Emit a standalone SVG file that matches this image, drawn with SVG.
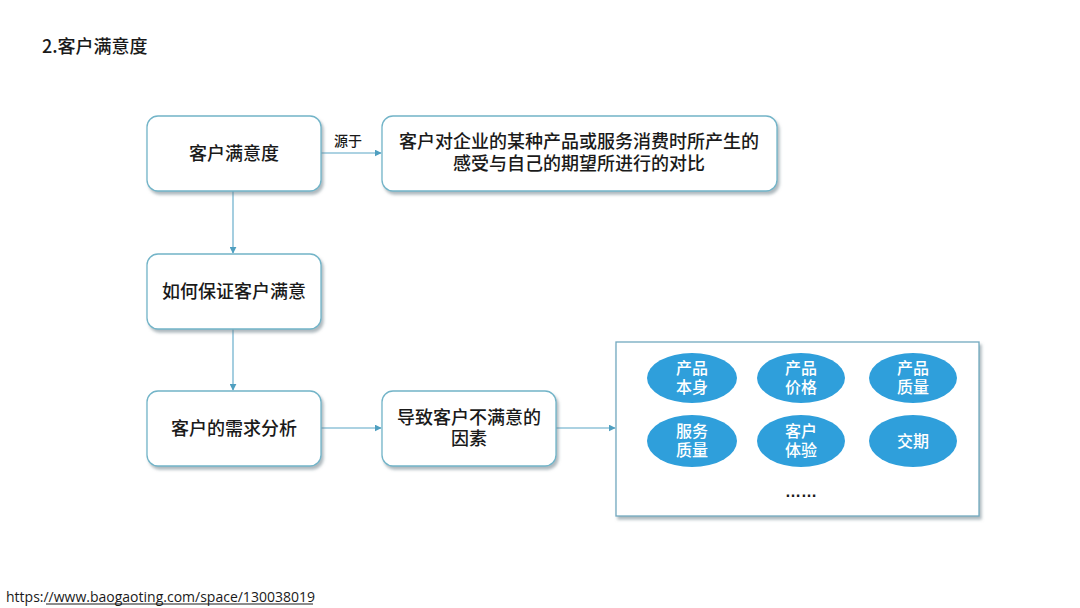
<svg xmlns="http://www.w3.org/2000/svg" width="1080" height="608" viewBox="0 0 1080 608">
<defs>
<filter id="sh" x="-10%" y="-10%" width="125%" height="135%">
<feDropShadow dx="2" dy="3" stdDeviation="1.8" flood-color="#6d7f88" flood-opacity="0.55"/>
</filter>
<marker id="arr" viewBox="0 0 10 10" refX="9" refY="5" markerWidth="7" markerHeight="7" orient="auto" markerUnits="userSpaceOnUse">
<path d="M0,0 L10,5 L0,10 Z" fill="#4f9fc0"/>
</marker>
</defs>
<style>
.box{fill:#ffffff;stroke:#72b4c8;stroke-width:1.3;filter:url(#sh)}
.t{font-family:"Noto Sans CJK SC","Liberation Sans",sans-serif;font-size:18px;font-weight:500;fill:#1a1a1a;text-anchor:middle}
.e{fill:#2f9fdb}
.et{font-family:"Noto Sans CJK SC","Liberation Sans",sans-serif;font-size:16px;font-weight:500;fill:#ffffff;text-anchor:middle}
.c{stroke:#5aa6c6;stroke-width:1.1;fill:none;marker-end:url(#arr)}
</style>
<rect width="1080" height="608" fill="#ffffff"/>
<text x="42" y="53" font-family="'Noto Sans CJK SC','Liberation Sans',sans-serif" font-size="18" font-weight="500" fill="#1a1a1a">2.客户满意度</text>

<g id="connectors">
<line class="c" x1="321" y1="153" x2="381" y2="153"/>
<line class="c" x1="233" y1="191" x2="233" y2="253"/>
<line class="c" x1="233" y1="329" x2="233" y2="390"/>
<line class="c" x1="321" y1="428" x2="381" y2="428"/>
<line class="c" x1="556" y1="428" x2="615" y2="428"/>
<text x="348" y="146" font-family="'Noto Sans CJK SC','Liberation Sans',sans-serif" font-size="14" font-weight="500" fill="#1a1a1a" text-anchor="middle">源于</text>
</g>

<g id="n1">
<rect class="box" x="147" y="116" width="174" height="75" rx="11"/>
<text class="t" x="234" y="160">客户满意度</text>
</g>
<g id="n2">
<rect class="box" x="382" y="116" width="395" height="75" rx="11"/>
<text class="t" x="579" y="148">客户对企业的某种产品或服务消费时所产生的</text>
<text class="t" x="579" y="170">感受与自己的期望所进行的对比</text>
</g>
<g id="n3">
<rect class="box" x="147" y="254" width="174" height="75" rx="11"/>
<text class="t" x="234" y="298">如何保证客户满意</text>
</g>
<g id="n4">
<rect class="box" x="147" y="391" width="174" height="75" rx="11"/>
<text class="t" x="234" y="435">客户的需求分析</text>
</g>
<g id="n5">
<rect class="box" x="382" y="391" width="174" height="75" rx="11"/>
<text class="t" x="469" y="424">导致客户不满意的</text>
<text class="t" x="469" y="445">因素</text>
</g>
<g id="n6">
<rect x="616" y="342" width="363" height="174" fill="#ffffff" stroke="#72a9bf" stroke-width="1.3" filter="url(#sh)"/>
<ellipse class="e" cx="692" cy="378" rx="45" ry="25"/>
<text class="et" x="692" y="374">产品</text>
<text class="et" x="692" y="393">本身</text>
<ellipse class="e" cx="801" cy="378" rx="44" ry="25"/>
<text class="et" x="801" y="374">产品</text>
<text class="et" x="801" y="393">价格</text>
<ellipse class="e" cx="913" cy="378" rx="44" ry="25"/>
<text class="et" x="913" y="374">产品</text>
<text class="et" x="913" y="393">质量</text>
<ellipse class="e" cx="692" cy="441" rx="45" ry="26"/>
<text class="et" x="692" y="437">服务</text>
<text class="et" x="692" y="456">质量</text>
<ellipse class="e" cx="801" cy="441" rx="44" ry="26"/>
<text class="et" x="801" y="437">客户</text>
<text class="et" x="801" y="456">体验</text>
<ellipse class="e" cx="913" cy="441" rx="44" ry="26"/>
<text class="et" x="913" y="447">交期</text>
<text x="801" y="497" font-family="'Liberation Sans',sans-serif" font-size="16" font-weight="bold" fill="#1a1a1a" text-anchor="middle">……</text>
</g>

<text x="6" y="602" font-family="'Open Sans','Liberation Sans',sans-serif" font-size="14" fill="#1a1a1a">https://www.baogaoting.com/space/130038019</text>
<line x1="46" y1="604" x2="313" y2="604" stroke="#1a1a1a" stroke-width="1"/>
</svg>
